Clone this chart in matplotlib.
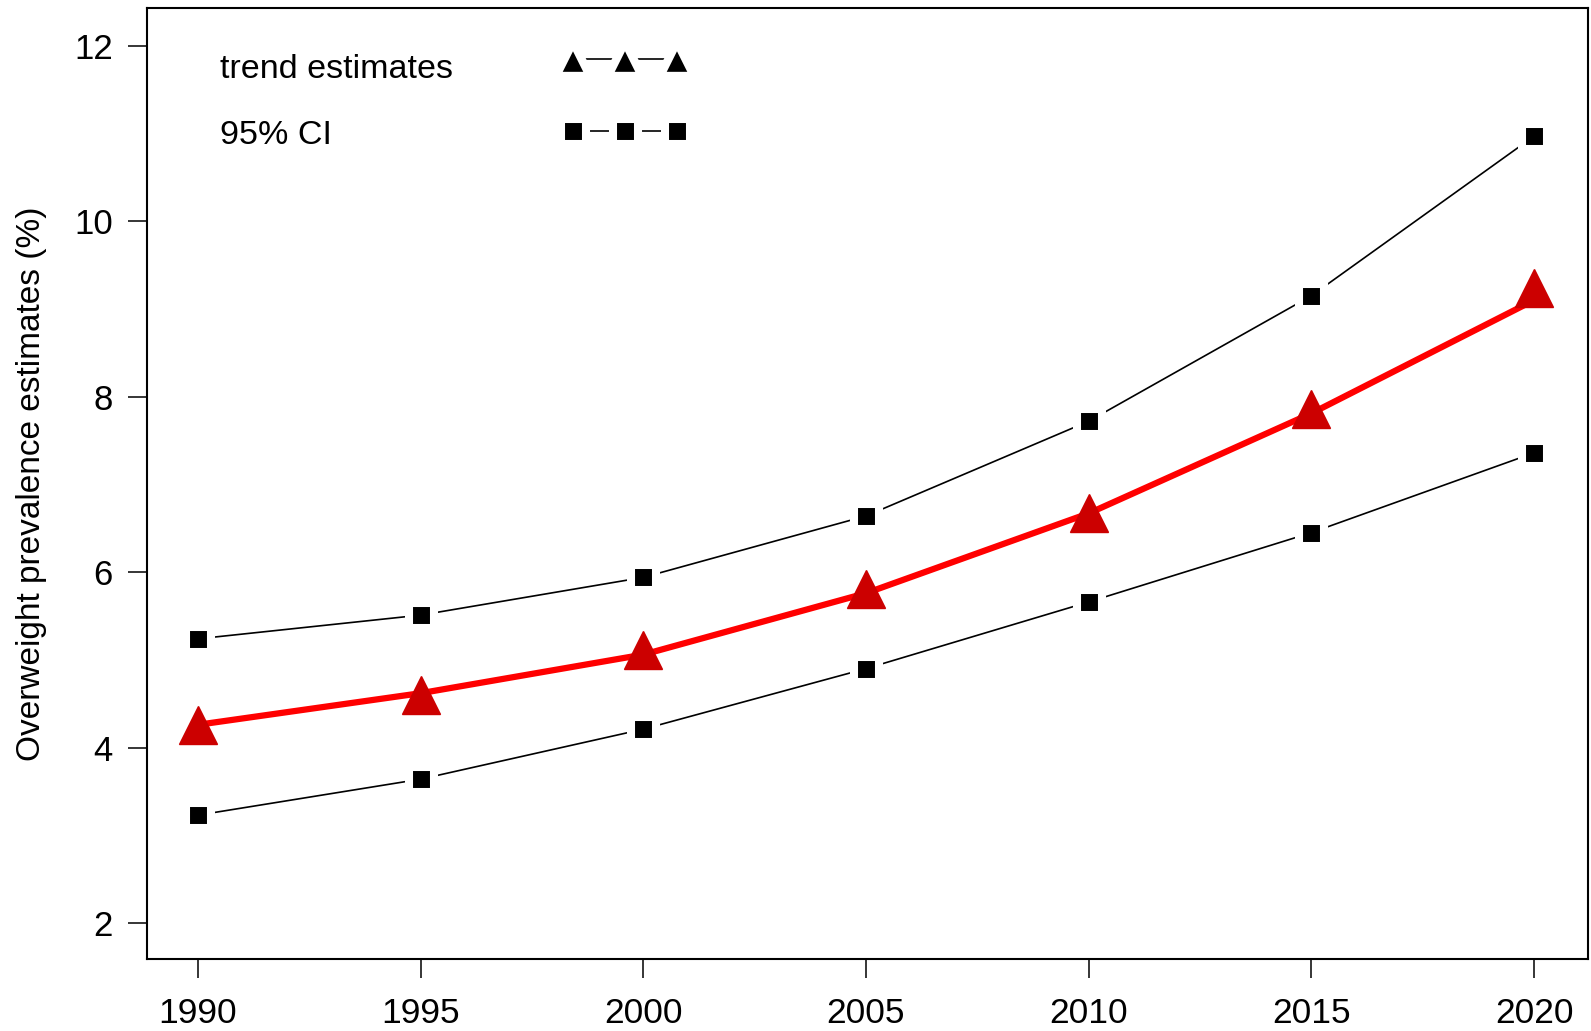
import matplotlib
matplotlib.use("Agg")
import matplotlib.pyplot as plt
from matplotlib.lines import Line2D

plt.rcParams['font.family'] = ['Liberation Sans', 'DejaVu Sans']

# values
years = [1990, 1995, 2000, 2005, 2010, 2015, 2020]
trend = [4.26, 4.60, 5.11, 5.81, 6.67, 7.86, 9.24]
fitted = [4.26, 4.62, 5.06, 5.76, 6.67, 7.81, 9.10]
ci_upper = [5.24, 5.51, 5.94, 6.64, 7.72, 9.15, 10.97]
ci_lower = [3.23, 3.64, 4.21, 4.90, 5.66, 6.45, 7.36]
yticks = [2, 4, 6, 8, 10, 12]

fig = plt.figure(figsize=(15.91, 10.31), dpi=100)
ax = fig.add_axes([0.0924, 0.0698, 0.9057, 0.9224])

# R style type="b": points with gaps in the line (white marker edge)
sq = dict(color='black', lw=1.2, marker='s', ms=18, mfc='black',
          mec='white', mew=5.8)
tri = dict(color='black', lw=1.2, marker='^', ms=24.5, mfc='black',
           mec='white', mew=6)

ax.plot(years, ci_upper, zorder=2, **sq)
ax.plot(years, ci_lower, zorder=2, **sq)
ax.plot(years, fitted, color='#ff0000', lw=4.5, zorder=3,
        solid_capstyle='butt')
ax.plot(years, trend, ls='none', marker='^', ms=27, color='#cc0000',
        zorder=4)

ax.set_xlim(1988.86, 2021.21)
ax.set_ylim(1.59, 12.43)
ax.set_xticks(years)
ax.set_yticks(yticks)
ax.tick_params(axis='x', length=14, width=1.1, pad=13, labelsize=25.5)
ax.tick_params(axis='y', length=13.7, width=1.1, pad=11, labelsize=25)
for s in ax.spines.values():
    s.set_linewidth(1.5)

ax.set_ylabel('Overweight prevalence estimates (%)', fontsize=24)
ax.yaxis.set_label_coords(-0.0694, 0.5)

# legend: labels left, keys right
ax.text(0.0507, 0.9265, 'trend estimates', transform=ax.transAxes,
        fontsize=24.5, va='baseline', ha='left')
ax.text(0.0507, 0.8575, '95% CI', transform=ax.transAxes,
        fontsize=24.5, va='baseline', ha='left')
keys = [Line2D([], [], **tri), Line2D([], [], **sq)]
ax.legend(keys, ['', ''], loc='upper left', bbox_to_anchor=(0.2887, 0.959),
          frameon=False, numpoints=3, fontsize=24.5, handlelength=3.66,
          handletextpad=0, borderpad=0, borderaxespad=0, labelspacing=1.2)

fig.savefig('out.png', dpi=100)
